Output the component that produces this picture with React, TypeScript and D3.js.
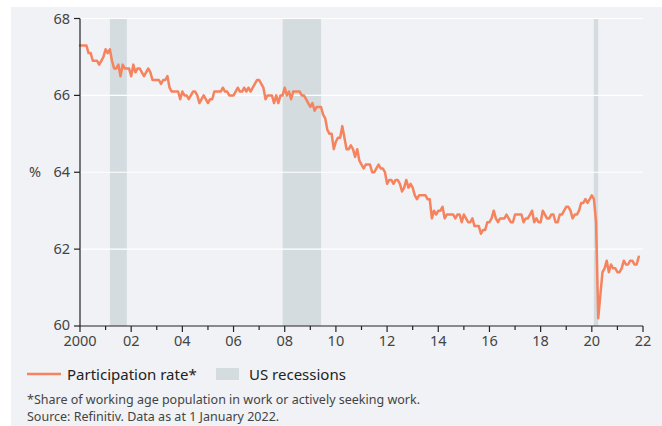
import React from "react";
import * as d3 from "d3";

const startYear = 2000;
const participation: number[] = [
  // 2000
  67.3, 67.3, 67.3, 67.3, 67.1, 67.1, 66.9, 66.9, 66.9, 66.8, 66.9, 67.0,
  // 2001
  67.2, 67.1, 67.2, 66.9, 66.7, 66.7, 66.8, 66.5, 66.8, 66.7, 66.7, 66.7,
  // 2002
  66.5, 66.8, 66.6, 66.7, 66.7, 66.6, 66.5, 66.6, 66.7, 66.6, 66.4, 66.4,
  // 2003
  66.4, 66.4, 66.3, 66.4, 66.4, 66.5, 66.2, 66.1, 66.1, 66.1, 66.1, 65.9,
  // 2004
  66.1, 66.0, 66.0, 65.9, 66.0, 66.1, 66.1, 66.0, 65.8, 65.9, 66.0, 65.9,
  // 2005
  65.8, 65.9, 65.9, 66.1, 66.1, 66.1, 66.1, 66.2, 66.1, 66.1, 66.0, 66.0,
  // 2006
  66.0, 66.1, 66.2, 66.1, 66.1, 66.2, 66.1, 66.2, 66.1, 66.2, 66.3, 66.4,
  // 2007
  66.4, 66.3, 66.2, 65.9, 66.0, 66.0, 66.0, 65.8, 66.0, 65.8, 66.0, 66.0,
  // 2008
  66.2, 66.0, 66.1, 65.9, 66.1, 66.1, 66.1, 66.1, 66.0, 66.0, 65.9, 65.8,
  // 2009
  65.7, 65.8, 65.6, 65.7, 65.7, 65.7, 65.5, 65.4, 65.1, 65.0, 65.0, 64.6,
  // 2010
  64.8, 64.9, 64.9, 65.2, 64.9, 64.6, 64.6, 64.7, 64.6, 64.4, 64.6, 64.3,
  // 2011
  64.2, 64.1, 64.2, 64.2, 64.2, 64.0, 64.0, 64.1, 64.2, 64.1, 64.1, 64.0,
  // 2012
  63.7, 63.8, 63.8, 63.7, 63.8, 63.8, 63.7, 63.5, 63.6, 63.8, 63.6, 63.7,
  // 2013
  63.6, 63.4, 63.3, 63.4, 63.4, 63.4, 63.4, 63.3, 63.3, 62.8, 63.0, 62.9,
  // 2014
  63.0, 63.0, 63.1, 62.8, 62.9, 62.9, 62.9, 62.9, 62.8, 62.9, 62.9, 62.7,
  // 2015
  62.9, 62.8, 62.7, 62.7, 62.8, 62.6, 62.6, 62.6, 62.4, 62.5, 62.5, 62.7,
  // 2016
  62.7, 62.8, 63.0, 62.8, 62.7, 62.8, 62.8, 62.8, 62.9, 62.8, 62.7, 62.7,
  // 2017
  62.9, 62.9, 62.9, 62.9, 62.7, 62.8, 62.8, 62.9, 63.0, 62.7, 62.8, 62.7,
  // 2018
  62.7, 63.0, 62.9, 62.8, 62.8, 62.9, 62.9, 62.7, 62.7, 62.9, 62.9, 63.0,
  // 2019
  63.1, 63.1, 63.0, 62.8, 62.9, 62.9, 63.0, 63.2, 63.2, 63.3, 63.2, 63.3,
  // 2020
  63.4, 63.3, 62.7, 60.2, 60.8, 61.4, 61.5, 61.7, 61.4, 61.6, 61.5, 61.5,
  // 2021
  61.4, 61.4, 61.5, 61.7, 61.6, 61.6, 61.7, 61.7, 61.6, 61.6, 61.8,
];

// recessions as [start, end] in fractional years
const recessionStarts = [2001.17, 2007.92, 2020.08];
const recessionEnds = [2001.83, 2009.42, 2020.25];

const yTicks = [60, 62, 64, 66, 68];
const xMajorTicks = [2000, 2002, 2004, 2006, 2008, 2010, 2012, 2014, 2016, 2018, 2020, 2022];
const xMinorTicks = [2001, 2003, 2005, 2007, 2009, 2011, 2013, 2015, 2017, 2019, 2021];
const xTickLabels = ["2000", "02", "04", "06", "08", "10", "12", "14", "16", "18", "20", "22"];

const legendLineLabel = "Participation rate*";
const legendRectLabel = "US recessions";
const footnote1 = "*Share of working age population in work or actively seeking work.";
const footnote2 = "Source: Refinitiv. Data as at 1 January 2022.";

const FONT = "'Noto Sans', 'Open Sans', sans-serif";
const LINE = "#f5835e";
const REC = "#d4dce0";
const BG = "#f0f2f5";

export default function App() {
  const W = 662;
  const H = 426;
  const left = 80;
  const right = 643;
  const top = 18.5;
  const bottom = 326;

  const x = d3.scaleLinear().domain([2000, 2022]).range([left, right]);
  const y = d3.scaleLinear().domain([60, 68]).range([bottom, top]);

  const pts = participation.map((v, i) => ({ t: startYear + i / 12, v }));
  const line = d3
    .line<{ t: number; v: number }>()
    .x((d) => x(d.t))
    .y((d) => y(d.v))
    .curve(d3.curveLinear);

  return (
    <svg
      width={W}
      height={H}
      style={{ position: "absolute", left: 0, top: 0, display: "block" }}
      fontFamily={FONT}
    >
      <rect x={0} y={0} width={W} height={H} fill="#ffffff" />
      <rect x={11} y={7} width={W - 11} height={H - 7} fill={BG} />

      {/* recession bands */}
      {recessionStarts.map((s, i) => (
        <rect
          key={"rec" + i}
          x={x(s)}
          y={y(68) + 0.5}
          width={x(recessionEnds[i]) - x(s)}
          height={y(60) - y(68) - 0.5}
          fill={REC}
        />
      ))}

      {/* gridlines */}
      {yTicks
        .filter((t) => t !== 60)
        .map((t) => (
          <line
            key={"g" + t}
            x1={left}
            x2={right}
            y1={y(t)}
            y2={y(t)}
            stroke="#ffffff"
            strokeWidth={1.2}
          />
        ))}

      {/* data line */}
      <path
        d={line(pts) || ""}
        fill="none"
        stroke={LINE}
        strokeWidth={2.5}
        strokeLinejoin="round"
        strokeLinecap="round"
      />

      {/* y axis */}
      <line x1={left} x2={left} y1={top} y2={bottom} stroke="#222" strokeWidth={1.2} />
      {yTicks.map((t) => (
        <g key={"yt" + t}>
          <line x1={left - 6} x2={left} y1={y(t)} y2={y(t)} stroke="#222" strokeWidth={1.2} />
          <text
            x={left - 10}
            y={y(t) - (t === 60 ? 1.5 : 0)}
            dy="0.35em"
            textAnchor="end"
            fontSize={14.5}
            fill="#444"
          >
            {t}
          </text>
        </g>
      ))}
      <text x={35} y={y(64)} dy="0.35em" textAnchor="middle" fontSize={14.5} fill="#444">
        %
      </text>

      {/* x axis */}
      <line x1={left} x2={right} y1={bottom} y2={bottom} stroke="#222" strokeWidth={1.2} />
      {xMajorTicks.map((t, i) => (
        <g key={"xt" + t}>
          <line x1={x(t)} x2={x(t)} y1={bottom} y2={bottom + 6} stroke="#222" strokeWidth={1.2} />
          <text x={x(t)} y={bottom + 20} textAnchor="middle" fontSize={14.5} fill="#444">
            {xTickLabels[i]}
          </text>
        </g>
      ))}
      {xMinorTicks.map((t) => (
        <line
          key={"xm" + t}
          x1={x(t)}
          x2={x(t)}
          y1={bottom}
          y2={bottom + 4}
          stroke="#222"
          strokeWidth={1.2}
        />
      ))}

      {/* legend */}
      <line x1={27} x2={61} y1={374} y2={374} stroke={LINE} strokeWidth={2.6} />
      <text x={67} y={379.5} fontSize={15} fill="#222">
        {legendLineLabel}
      </text>
      <rect x={216} y={368} width={23} height={12} fill={REC} />
      <text x={249} y={379.5} fontSize={15} fill="#222">
        {legendRectLabel}
      </text>

      {/* footnotes */}
      <text x={27} y={404} fontSize={12.5} fill="#444">
        {footnote1}
      </text>
      <text x={27} y={421} fontSize={12.5} fill="#444">
        {footnote2}
      </text>
    </svg>
  );
}
